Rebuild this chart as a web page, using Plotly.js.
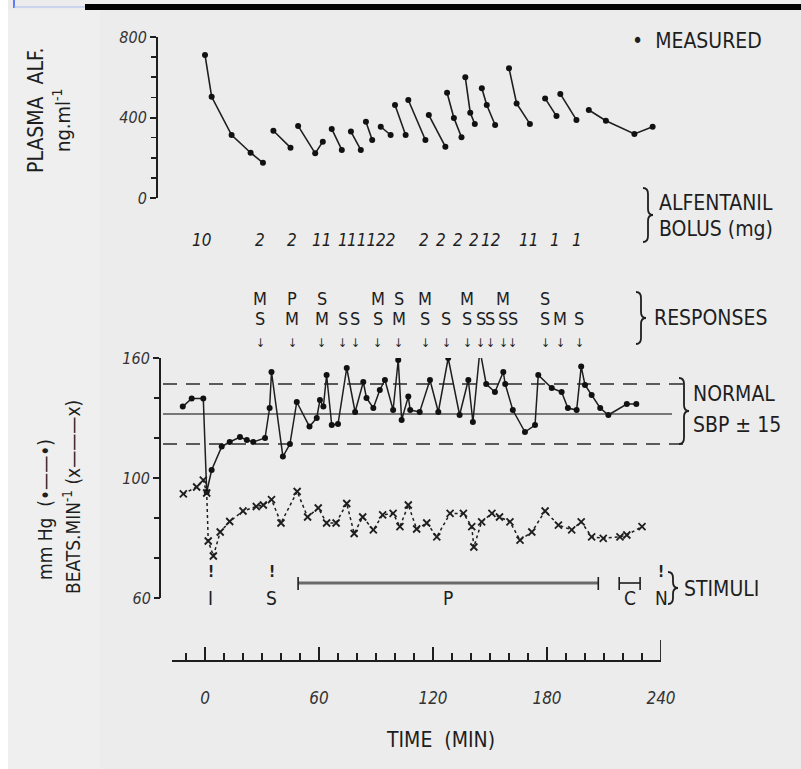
<!DOCTYPE html>
<html><head><meta charset="utf-8">
<script src="https://cdn.plot.ly/plotly-3.0.1.min.js"></script>
<style>html,body{margin:0;padding:0;background:#fff}</style>
</head><body><div id="chart" style="width:801px;height:769px"></div>
<script>
// ---------- data ----------
const plasmaTime = [0,3.5,14,24,30.5,null,36,45,null,49,58,62,null,66.7,72,null,76.8,82,null,84.7,88,null,92.5,97.7,null,100,105.6,null,107,116,null,117.8,126.5,null,127.4,131,135,null,137,139.6,142,null,145.7,148.3,152.7,null,160,164,171,null,179,185,null,187,195.5,null,202,211,226,235.6];
const plasmaConc = [711,503,313,225,175,null,334,250,null,358,222,280,null,343,239,null,330,239,null,379,288,null,354,313,null,462,313,null,487,288,null,412,255,null,523,398,302,null,600,424,368,null,545,462,363,null,645,470,368,null,495,407,null,517,388,null,437,384,318,354];

const sbpTime = [-11.7,-7,-0.9,0.9,3.5,8.8,13,18.4,22,25.4,31.6,34,35,41,44.7,48.3,55,58.8,60.5,62.3,64,66.7,70,74.6,79,83.3,85,88.6,92,94.7,99,101.7,103.5,107,108,113,118.4,122.8,128,134,138.6,141,144.7,148,152.6,157,158,162,168.4,173.7,175.4,182.5,187.7,191,195.6,198,200,203.5,208,212.3,222,227];
const sbpValue = [135.7,139.8,139.8,93,104,115.7,118,120.5,119,118,120,135,153,110.7,117,138,125.7,130,139,135.7,151.5,126.5,127,155,133,148,140,135,144,149,134,159,129,140.7,134,133,149,133,160,131.5,149,128,164,147,143,153,147,134,123,126.5,151.5,145,143,135,134,155.7,146.5,141.5,135,131.5,137,137];

const hrTime = [-11.4,-4.4,-0.9,0.9,1.7,4.4,8,13,20,27,30.7,35,40,48.5,54,59.6,64,69,74.6,78.5,83,88.6,93.5,99,102.6,107,111.4,116.7,122,129,136,140.4,141.5,145.6,151,155,160.5,165.8,172,179,186,193,198,203.5,209.6,218.4,222,230];
const hrValue = [94.7,97,99.3,95,79,74,82,85.5,89,90.5,91,92.8,85,95.5,87,90,85,85,91.5,81.5,87,82.7,87.7,88.2,83.8,91,83,85,80.4,88.2,88.2,83.8,77,85.4,88.2,87,85.4,79.3,82,89,84.3,82.7,85.4,80.4,79.9,80.4,81,83.8];

const bolusTime = [-2,29,46,59.5,62.6,72.6,79,82.5,86,93,96.5,115,124,133,141.6,148,152,168,172,184,196];
const bolusDose = ['10','2','2','1','1','1','1','1','1','2','2','2','2','2','2','1','2','1','1','1','1'];

const respTime   = [29,46,61.5,72.6,79,91,102,116,127,138,145,150,157,162,179,187,197];
const respTop    = ['M','P','S','','','M','S','M','','M','','','M','','S','',''];
const respBottom = ['S','M','M','S','S','S','M','S','S','S','S','S','S','S','S','M','S'];

const stimLabel = ['I','S','P','C','N'];
const stimStart = [3,35,49,218,240];
const stimEnd   = [3,35,207,229,240];

const normalSBP = 132, normalBand = 15;
const timeTickVals = [0,60,120,180,240];
const timeTickText = ['0','60','120','180','240'];
const plasmaTickVals = [0,400,800];
const plasmaTickText = ['0','400','800'];
const bpTickVals = [100,160];
const bpTickText = ['100','160'];
const hrTickVals = [60];
const hrTickText = ['60'];

// ---------- layout helpers ----------
const W = 801, H = 769;
const fx = p => p / W;
const fy = p => 1 - p / H;
const FONT = "'DejaVu Sans Condensed','Liberation Sans Narrow','DejaVu Sans',sans-serif";
const INK = '#1e1e1e';

function brace(x, yt, yb) {
  const ym = (yt + yb) / 2, w = 5;
  const path = `M${fx(x-w)},${fy(yt)} Q${fx(x)},${fy(yt)} ${fx(x)},${fy(yt+6)} L${fx(x)},${fy(ym-6)} ` +
    `Q${fx(x)},${fy(ym)} ${fx(x+w)},${fy(ym)} Q${fx(x)},${fy(ym)} ${fx(x)},${fy(ym+6)} ` +
    `L${fx(x)},${fy(yb-6)} Q${fx(x)},${fy(yb)} ${fx(x-w)},${fy(yb)}`;
  return {type:'path', xref:'paper', yref:'paper', path, line:{color:INK, width:1.8}};
}
function txt(x, y, text, size, extra) {
  return Object.assign({xref:'paper', yref:'paper', x:fx(x), y:fy(y), text, showarrow:false,
    xanchor:'left', yanchor:'middle', font:{family:FONT, size:size, color:INK}}, extra || {});
}

// ---------- traces ----------
const traces = [
  {x: plasmaTime, y: plasmaConc, xaxis:'x', yaxis:'y', mode:'lines+markers', connectgaps:false,
   line:{color:INK, width:1.6}, marker:{size:6, color:'#111'}, hoverinfo:'skip', showlegend:false},
  {x: sbpTime, y: sbpValue, xaxis:'x', yaxis:'y2', mode:'lines+markers',
   line:{color:INK, width:1.5}, marker:{size:6, color:'#111'}, hoverinfo:'skip', showlegend:false},
  {x: hrTime, y: hrValue, xaxis:'x', yaxis:'y3', mode:'lines+markers',
   line:{color:INK, width:1.5, dash:'dot'}, marker:{symbol:'x-thin-open', size:7, line:{width:1.8, color:INK}},
   hoverinfo:'skip', showlegend:false}
];

// ---------- shapes ----------
const shapes = [
  {type:'rect', xref:'paper', yref:'paper', x0:0, x1:fx(8), y0:0, y1:1, fillcolor:'#ffffff', line:{width:0}, layer:'below'},
  {type:'rect', xref:'paper', yref:'paper', x0:fx(8), x1:fx(100), y0:0, y1:fy(10), fillcolor:'#efefef', line:{width:0}, layer:'below'},
  {type:'rect', xref:'paper', yref:'paper', x0:fx(85), x1:1, y0:fy(10), y1:fy(4), fillcolor:'#000', line:{width:0}},
  {type:'line', xref:'paper', yref:'paper', x0:fx(14), x1:fx(14), y0:fy(0), y1:fy(8), line:{color:'#3355ff', width:1.5}},
  {type:'line', xref:'paper', yref:'paper', x0:fx(14), x1:fx(85), y0:fy(7), y1:fy(7), line:{color:'#aabbee', width:1}},
  // normal SBP band
  {type:'line', xref:'paper', yref:'y2', x0:fx(163), x1:fx(683), y0:normalSBP+normalBand, y1:normalSBP+normalBand, line:{color:'#2a2a2a', width:1.6, dash:'14px,9px'}, layer:'below'},
  {type:'line', xref:'paper', yref:'y2', x0:fx(163), x1:fx(672), y0:normalSBP, y1:normalSBP, line:{color:'#777', width:1.8}, layer:'below'},
  {type:'line', xref:'paper', yref:'y2', x0:fx(163), x1:fx(683), y0:normalSBP-normalBand, y1:normalSBP-normalBand, line:{color:'#2a2a2a', width:1.6, dash:'14px,9px'}, layer:'below'},
  // tall tick at 240
  {type:'line', xref:'x', yref:'paper', x0:240, x1:240, y0:fy(661), y1:fy(640), line:{color:INK, width:1.8}},
  brace(648, 188, 242),
  brace(641, 292, 344),
  brace(684, 378, 444),
  brace(673, 572, 604)
];
// stimuli bars
for (let i = 0; i < stimLabel.length; i++) {
  if (stimEnd[i] > stimStart[i]) {
    const isP = stimLabel[i] === 'P';
    shapes.push({type:'line', xref:'x', yref:'paper', x0:stimStart[i], x1:stimEnd[i], y0:fy(583), y1:fy(583),
      line:{color:isP ? '#6a6a6a' : INK, width:isP ? 3 : 1.6}});
    shapes.push({type:'line', xref:'x', yref:'paper', x0:stimStart[i], x1:stimStart[i], y0:fy(577), y1:fy(590), line:{color:INK, width:1.6}});
    shapes.push({type:'line', xref:'x', yref:'paper', x0:stimEnd[i], x1:stimEnd[i], y0:fy(577), y1:fy(590), line:{color:INK, width:1.6}});
  }
}

// ---------- annotations ----------
const ann = [
  txt(630, 41, '•  MEASURED', 21),
  txt(657, 203, 'ALFENTANIL', 21),
  txt(657, 229, 'BOLUS (mg)', 21),
  txt(652, 318, 'RESPONSES', 21),
  txt(691, 394, 'NORMAL', 21),
  txt(691, 425, 'SBP ± 15', 21),
  txt(682, 589, 'STIMULI', 21),
  txt(440, 740, 'TIME  (MIN)', 21, {xanchor:'center'}),
  txt(36, 111, 'PLASMA  ALF.', 21, {xanchor:'center', textangle:-90}),
  txt(62, 120, 'ng.ml<sup>-1</sup>', 20, {xanchor:'center', textangle:-90}),
  txt(45, 510, 'mm Hg  (•——•)', 19, {xanchor:'center', textangle:-90}),
  txt(72, 497, 'BEATS.MIN<sup>-1</sup> (x———x)', 19, {xanchor:'center', textangle:-90})
];
// bolus digits: boluses given within 4 min of each other are written together
let groups = [];
bolusTime.forEach((t, i) => {
  const g = groups[groups.length - 1];
  if (g && t - g.last <= 4) { g.text += bolusDose[i]; g.times.push(t); g.last = t; }
  else groups.push({text: bolusDose[i], times:[t], last:t});
});
groups.forEach(g => ann.push({xref:'x', yref:'paper', x:g.times.reduce((a,b)=>a+b,0)/g.times.length, y:fy(228),
  text:'<i>'+g.text+'</i>', showarrow:false, font:{family:FONT, size:17, color:INK}}));
respTime.forEach((t, i) => {
  if (respTop[i]) ann.push({xref:'x', yref:'paper', x:t, y:fy(298), text:respTop[i], showarrow:false, font:{family:FONT, size:18, color:INK}});
  if (respBottom[i]) ann.push({xref:'x', yref:'paper', x:t, y:fy(318), text:respBottom[i], showarrow:false, font:{family:FONT, size:18, color:INK}});
  ann.push({xref:'x', yref:'paper', x:t, y:fy(343), text:'↓', showarrow:false, borderpad:0, font:{family:FONT, size:12, color:INK}});
});
stimLabel.forEach((s, i) => {
  const mid = (stimStart[i] + stimEnd[i]) / 2;
  if (stimEnd[i] === stimStart[i]) ann.push({xref:'x', yref:'paper', x:mid, y:fy(583), text:'<b>!</b>', showarrow:false, font:{family:FONT, size:15, color:INK}});
  ann.push({xref:'x', yref:'paper', x:mid, y:fy(611), text:s, showarrow:false, font:{family:FONT, size:19, color:INK}});
});

// ---------- layout ----------
const axisCommon = {showgrid:false, zeroline:false, showline:true, linecolor:INK, linewidth:2,
  tickcolor:INK, tickwidth:2, tickfont:{family:FONT, size:16, color:'#333', style:'italic'}};
const layout = {
  width:W, height:H, margin:{l:0, r:0, t:0, b:0},
  paper_bgcolor:'#ececec', plot_bgcolor:'rgba(0,0,0,0)', showlegend:false,
  xaxis: Object.assign({}, axisCommon, {domain:[fx(172), fx(661)], range:[(172-205)/1.9, 240],
    anchor:'free', position:fy(661), ticks:'inside', ticklen:13, tickvals:timeTickVals, ticktext:timeTickText,
    ticklabelstandoff:22, tickfont:{family:FONT, size:17, color:'#333', style:'italic'},
    minor:{dtick:10, tick0:0, ticks:'inside', ticklen:7, tickwidth:1.6, tickcolor:INK, showgrid:false}}),
  yaxis: Object.assign({}, axisCommon, {domain:[fy(198), fy(37)], range:[0, 800], anchor:'free', position:fx(157),
    ticks:'outside', ticklen:6, tickvals:plasmaTickVals, ticktext:plasmaTickText,
    minor:{dtick:100, tick0:0, ticks:'outside', ticklen:5, tickwidth:1.6, tickcolor:INK, showgrid:false}}),
  yaxis2: Object.assign({}, axisCommon, {domain:[fy(598), fy(358)], range:[40, 160], anchor:'free', position:fx(160),
    ticks:'outside', ticklen:6, tickvals:bpTickVals, ticktext:bpTickText,
    minor:{dtick:20, tick0:40, ticks:'outside', ticklen:5, tickwidth:1.6, tickcolor:INK, showgrid:false}}),
  yaxis3: Object.assign({}, axisCommon, {domain:[fy(598), fy(358)], range:[60, 140], anchor:'free', position:fx(160),
    overlaying:'y2', showline:false, ticks:'outside', ticklen:6, tickvals:hrTickVals, ticktext:hrTickText}),
  shapes, annotations: ann
};
Plotly.newPlot('chart', traces, layout, {staticPlot:true, displayModeBar:false});
</script></body></html>
